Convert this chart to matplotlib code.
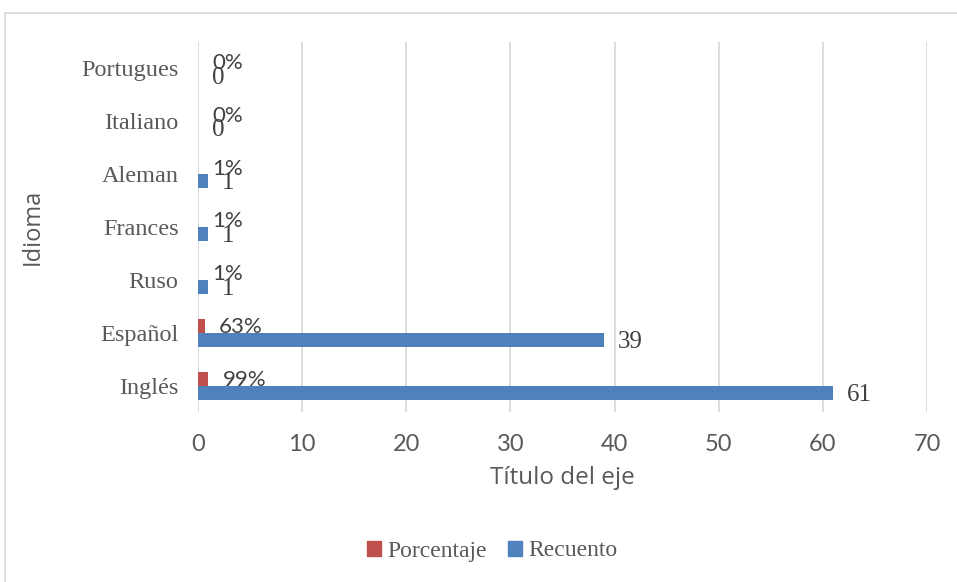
import numpy as np
import matplotlib.pyplot as plt
from matplotlib.patches import Rectangle, Patch

idiomas = ["Inglés", "Español", "Ruso", "Frances", "Aleman", "Italiano", "Portugues"]
recuento = [61, 39, 1, 1, 1, 0, 0]
porcentaje = [0.99, 0.63, 0.01, 0.01, 0.01, 0.0, 0.0]
porcentaje_txt = ["99%", "63%", "1%", "1%", "1%", "0%", "0%"]

azul = "#4F81BD"
rojo = "#C0504D"
gris = "#595959"
serif = "Liberation Serif"
sans = "Lato"

fig = plt.figure(figsize=(9.57, 5.82), dpi=100)
ax = fig.add_axes([198 / 957, 1 - 412 / 582, (927 - 198) / 957, (412 - 42) / 582])

# marco gris del grafico
fig.patches.append(Rectangle((5 / 957, -0.1), 1.2, 1.1 - 13 / 582,
                             transform=fig.transFigure, fill=False,
                             edgecolor="#d9d9d9", lw=1.3))

y = np.arange(len(idiomas))
h = 0.265
ax.barh(y + h / 2, porcentaje, height=h, color=rojo, label="Porcentaje")
ax.barh(y - h / 2, recuento, height=h, color=azul, label="Recuento")

for i in range(len(idiomas)):
    ax.annotate(porcentaje_txt[i], (porcentaje[i], y[i] + h / 2), xytext=(10.5, -1),
                textcoords="offset points", va="center", ha="left",
                fontsize=16, family=sans, color="#404040")
    ax.annotate(str(recuento[i]), (recuento[i], y[i] - h / 2), xytext=(10, -1.5),
                textcoords="offset points", va="center", ha="left",
                fontsize=18, family=serif, color="#404040")

ax.set_xlim(0, 70)
ax.set_ylim(-0.5, len(idiomas) - 0.5)
ax.set_xticks(range(0, 71, 10))
ax.set_yticks(y)
ax.set_yticklabels(idiomas, family=serif, fontsize=17.5, color=gris)
ax.tick_params(axis="y", length=0, pad=14)
ax.tick_params(axis="x", length=0, pad=16, labelsize=17, labelcolor=gris)
for lab in ax.get_xticklabels():
    lab.set_family(sans)
for s in ax.spines.values():
    s.set_visible(False)
ax.grid(axis="x", color="#d9d9d9", lw=1.3)
ax.set_axisbelow(True)

ax.set_xlabel("Título del eje", family="Open Sans", fontsize=17.5, color=gris, labelpad=8)
fig.text(33 / 957, 1 - 227 / 582, "Idioma", rotation=90, ha="center", va="center",
         family="Open Sans", fontsize=17, color=gris)

handles = [Patch(color=rojo, label="Porcentaje"), Patch(color=azul, label="Recuento")]
fig.legend(handles=handles, loc="center", bbox_to_anchor=(492 / 957, 1 - 551 / 582),
           ncol=2, frameon=False, handlelength=0.6, handleheight=0.6,
           handletextpad=0.25, columnspacing=0.9,
           prop={"family": serif, "size": 17}, labelcolor=gris)

fig.savefig("out.png", dpi=100)
